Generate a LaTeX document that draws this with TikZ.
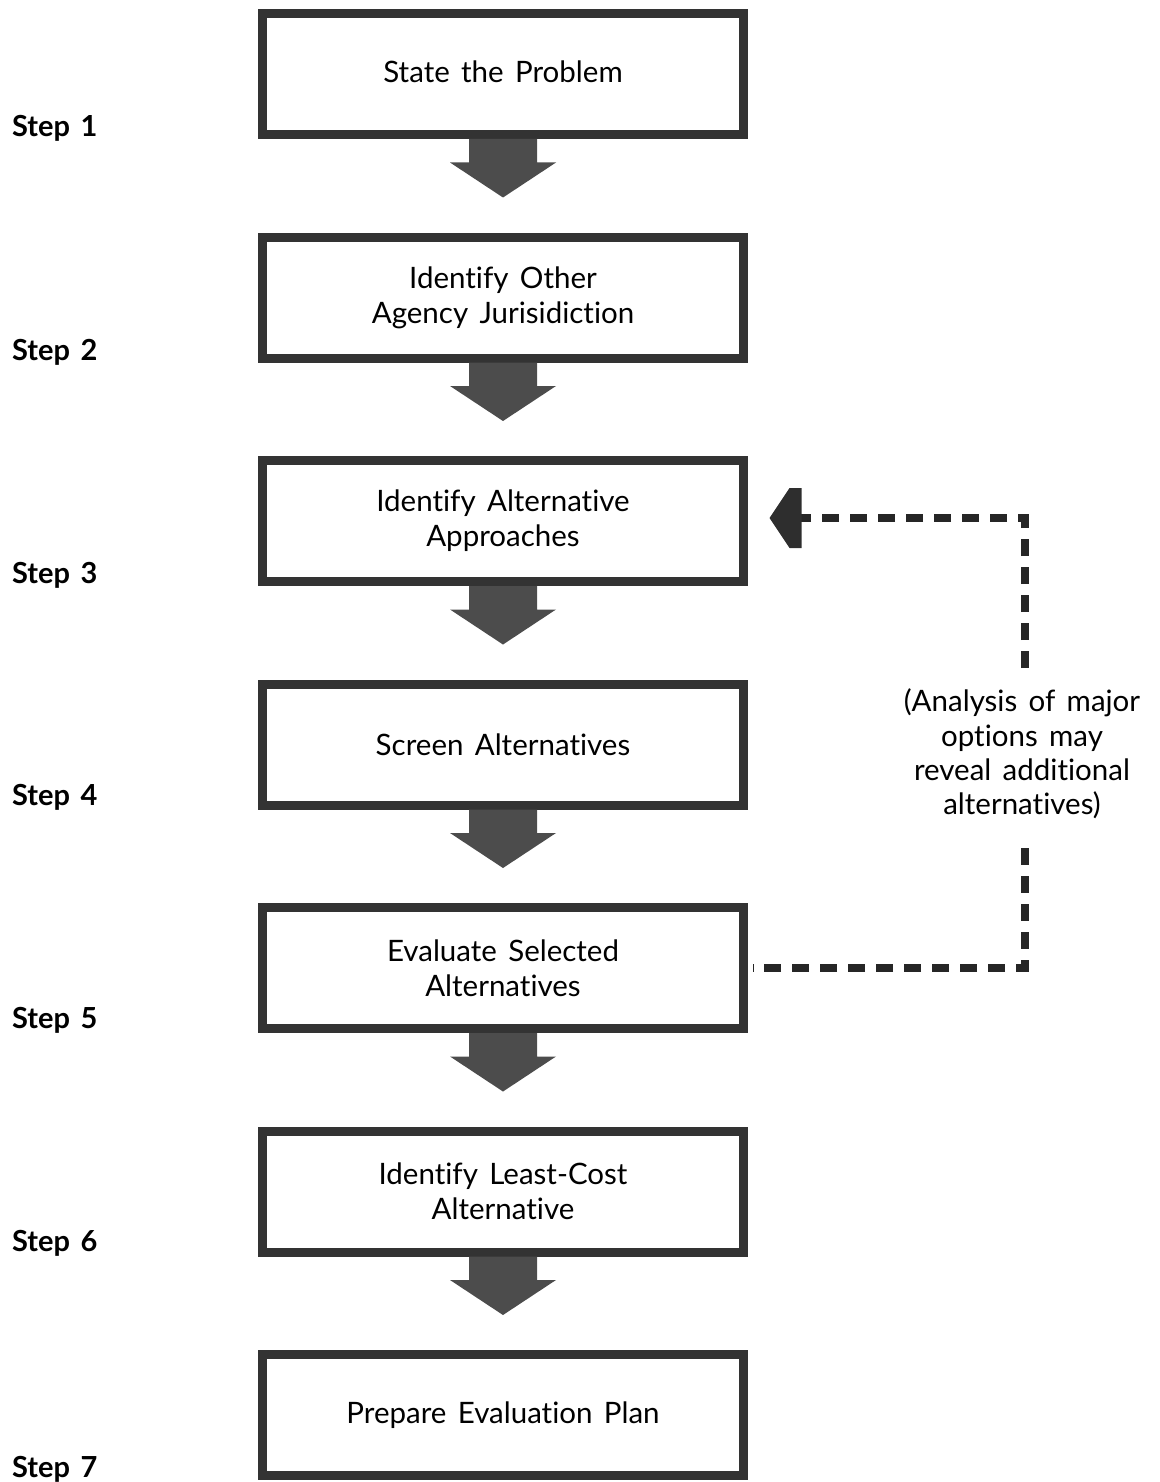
\documentclass[tikz,border=0pt]{standalone}
\usepackage{fontspec}
\setmainfont{Lato}[Ligatures={NoCommon}, WordSpace={1.5,1,1}]
\usetikzlibrary{calc}
\begin{document}
\begin{tikzpicture}[x=1pt,y=-1pt,
  stepbox/.style={draw=black!80, line width=9pt, fill=white, minimum width=481pt,
    minimum height=121pt, align=center, inner sep=0pt,
    font=\fontsize{29.5}{35}\selectfont},
  steplabel/.style={anchor=base west, inner sep=0pt,
    font=\bfseries\fontsize{29}{34}\selectfont},
  fb/.style={draw=black!85, line width=8pt, dash pattern=on 17pt off 11pt},
  blockarrow/.style={fill=black!70},
  notetext/.style={align=center, inner sep=0pt, font=\fontsize{29.5}{34.3}\selectfont}]
\useasboundingbox (0,0) rectangle (1159,1482);

% boxes
\node[stepbox] (b1) at (503,74)    {\raisebox{5pt}{State the Problem}};
\node[stepbox] (b2) at (503,297.5) {Identify Other\\Agency Jurisidiction};
\node[stepbox] (b3) at (503,521)   {Identify Alternative\\Approaches};
\node[stepbox] (b4) at (503,744.5) {Screen Alternatives};
\node[stepbox] (b5) at (503,968)   {Evaluate Selected\\Alternatives};
\node[stepbox] (b6) at (503,1191.5){Identify Least-Cost\\Alternative};
\node[stepbox] (b7) at (503,1415)  {Prepare Evaluation Plan};

% step labels
\node[steplabel] (s1) at (12,137)    {Step 1};
\node[steplabel] (s2) at (12,360.5)  {Step 2};
\node[steplabel] (s3) at (12,583)    {Step 3};
\node[steplabel] (s4) at (12,805)    {Step 4};
\node[steplabel] (s5) at (12,1028)   {Step 5};
\node[steplabel] (s6) at (12,1251)   {Step 6};
\node[steplabel] (s7) at (12,1477)   {Step 7};

% block arrows between boxes
\foreach \a in {b1,b2,b3,b4,b5,b6}{
  \fill[blockarrow] ($(\a.south)+(-34,0)$) -- ++(0,23.5) -- ++(-19,0)
    -- ($(\a.south)+(0,58.5)$) -- ($(\a.south)+(53,23.5)$) -- ++(-19,0)
    -- ++(0,-23.5) -- cycle;
}

% feedback note and dashed connector
\node[notetext] (note) at (1022,754) {(Analysis of major\\options may\\reveal additional\\alternatives)};
\coordinate (fbA) at (1025,848);
\coordinate (fbB) at (1025,668);
\coordinate (fbH) at ($(b3.east)+(52,-3)$);
\draw[fb, shorten >=4.5pt] (fbA) |- (b5.east);
\draw[fb] (fbB) |- (fbH);
\fill[black!82] ($(b3.east)+(21.5,-3)$) -- ++(20,-30) -- ++(12,0) -- ++(0,60)
  -- ++(-12,0) -- cycle;
\end{tikzpicture}
\end{document}
